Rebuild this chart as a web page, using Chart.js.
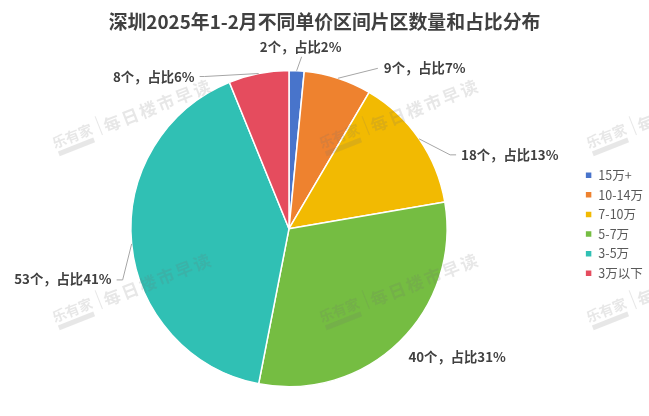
<!DOCTYPE html>
<html lang="zh">
<head>
<meta charset="utf-8">
<title>深圳2025年1-2月不同单价区间片区数量和占比分布</title>
<script src="https://cdn.jsdelivr.net/npm/chart.js@4"></script>
<style>
	html, body { margin: 0; padding: 0; background: #fff; overflow: hidden; }
	canvas { display: block; }
</style>
</head>
<body>
<canvas id="chart" width="649" height="416"></canvas>
<script>
const FontFamily = '"Noto Sans CJK SC", "Noto Sans", sans-serif';

const categories = [ "15万+", "10-14万", "7-10万", "5-7万", "3-5万", "3万以下" ];
const counts = [ 2, 9, 18, 40, 53, 8 ];
const shares = [ 2, 7, 13, 31, 41, 6 ];
const colors = [ "#4874CB", "#EE822F", "#F2BA02", "#75BD42", "#30C0B4", "#E54C5E" ];

// label placement relative to the slice's outer edge: elbow, line end, text anchor
const labelLayout = [
	{ elbow: [5, -14], end: [5, -14], text: [4, -24], align: "center" },
	{ elbow: [40, -10], end: [40, -10], text: [46, -10], align: "left" },
	{ elbow: [31, 16], end: [37, 16], text: [42, 16], align: "left" },
	{ elbow: null, end: null, text: [9, 15], align: "left" },
	{ elbow: [-9, 36], end: [-15, 36], text: [-20, 35], align: "right" },
	{ elbow: [-54, 3], end: [-59, 3], text: [-64, 3], align: "right" },
];

const watermarkX = [ 73, 340, 607 ];
const watermarkY = [ 138, 312 ];

const watermark = {
	id: "watermark",
	afterDatasetsDraw(chart)
	{
		const ctx = chart.ctx;
		for (const y of watermarkY)
		{
			for (const x of watermarkX)
			{
				ctx.save();
				ctx.translate(x, y);
				ctx.rotate(-21.5 * Math.PI / 180);
				ctx.fillStyle = "rgba(110, 110, 110, 0.17)";
				ctx.textBaseline = "middle";
				ctx.textAlign = "center";
				ctx.font = "bold 14px " + FontFamily;
				ctx.fillText("乐有家", 0, -2);
				ctx.fillRect(-19, 7, 38, 5);
				ctx.fillRect(28, -12, 1, 20);
				ctx.textAlign = "left";
				ctx.font = "bold 17px " + FontFamily;
				ctx.letterSpacing = "2.3px";
				ctx.fillText("每日楼市早读", 33, 1);
				ctx.restore();
			}
		}
	}
};

const sliceLabels = {
	id: "sliceLabels",
	afterLayout(chart)
	{
		// the legend box spans the title's height too, so bring it down beside the pie
		chart.legend.top += 30.5;
		chart.legend.bottom += 30.5;
	},
	afterDatasetsDraw(chart)
	{
		const ctx = chart.ctx;
		chart.getDatasetMeta(0).data.forEach((arc, i) =>
		{
			const { x, y, startAngle, endAngle, outerRadius } =
					arc.getProps(["x", "y", "startAngle", "endAngle", "outerRadius"]);
			const mid = (startAngle + endAngle) / 2;
			const ex = x + Math.cos(mid) * outerRadius;
			const ey = y + Math.sin(mid) * outerRadius;
			const layout = labelLayout[i];

			ctx.save();
			if (layout.elbow != null)
			{
				ctx.strokeStyle = "#A6A6A6";
				ctx.lineWidth = 1;
				ctx.beginPath();
				ctx.moveTo(ex, ey);
				ctx.lineTo(ex + layout.elbow[0], ey + layout.elbow[1]);
				ctx.lineTo(ex + layout.end[0], ey + layout.end[1]);
				ctx.stroke();
			}
			ctx.fillStyle = "#404040";
			ctx.font = "bold 13.3px " + FontFamily;
			ctx.textAlign = layout.align;
			ctx.textBaseline = "middle";
			ctx.fillText(`${counts[i]}个，占比${shares[i]}%`, ex + layout.text[0], ey + layout.text[1]);
			ctx.restore();
		});
	}
};

new Chart(document.getElementById("chart"), {
	type: "pie",
	data: {
		labels: categories,
		datasets: [{
			data: counts,
			backgroundColor: colors,
			borderColor: "#ffffff",
			borderWidth: 1.5,
		}]
	},
	options: {
		responsive: false,
		animation: false,
		layout: {
			padding: { top: 0, right: 0, bottom: 28.5, left: 0 },
		},
		plugins: {
			title: {
				display: true,
				text: "深圳2025年1-2月不同单价区间片区数量和占比分布",
				color: "#404040",
				font: { family: FontFamily, size: 18.85, weight: "bold", lineHeight: 1.2 },
				padding: { top: 10.7, bottom: 36.5 },
			},
			legend: {
				position: "right",
				maxWidth: 71,
				labels: {
					color: "#595959",
					font: { family: FontFamily, size: 12.5 },
					boxWidth: 7,
					boxHeight: 7,
					padding: 7.1,
				},
			},
			tooltip: { enabled: false },
		},
	},
	plugins: [ watermark, sliceLabels ],
});
</script>
</body>
</html>
